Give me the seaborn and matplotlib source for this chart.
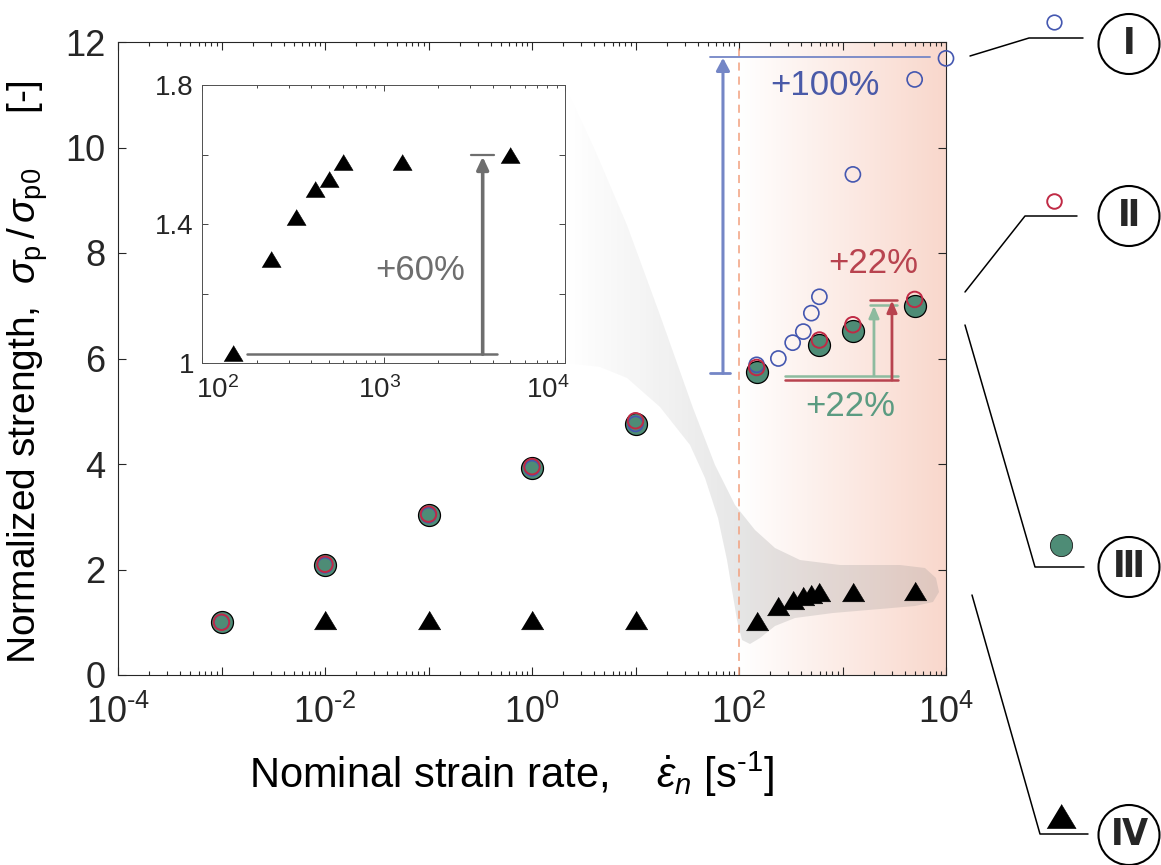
import numpy as np
import matplotlib
matplotlib.use("Agg")
import matplotlib.pyplot as plt
import matplotlib.transforms as mtransforms
from matplotlib.patches import Polygon, Ellipse
from matplotlib.lines import Line2D
from matplotlib.ticker import LogLocator, NullFormatter, FuncFormatter, FixedLocator, FixedFormatter
import seaborn as sns

# ---- values ----
rate_low = [1e-3, 1e-2, 1e-1, 1e0, 1e1]
rate_iv_low = [1e-2, 1e-1, 1e0, 1e1]
rate_high = [148, 240, 330, 418, 500, 598, 1260, 4980]
rate_i_high = [148, 240, 330, 418, 500, 598, 1260, 4980, 1e4]
rate_circ_high = [148, 598, 1260, 4980]

str_i_low = [1.00, 2.08, 3.03, 3.92, 4.76]
str_i_high = [5.88, 6.00, 6.30, 6.51, 6.86, 7.17, 9.49, 11.29, 11.69]
str_ii_low = [1.00, 2.10, 3.05, 3.95, 4.82]
str_ii_high = [5.83, 6.35, 6.64, 7.12]
str_iii_low = [1.00, 2.08, 3.03, 3.92, 4.76]
str_iii_high = [5.75, 6.26, 6.52, 7.00]
str_iv_low = [1.04, 1.04, 1.04, 1.04]
str_iv_high = [1.03, 1.30, 1.42, 1.50, 1.53, 1.58, 1.58, 1.60]

legend_labels = ["Ⅰ", "Ⅱ", "Ⅲ", "Ⅳ"]

BLUE = "#4457b0"
BLUE_L = "#7486c6"
BLUE_T = "#4a5aa8"
RED = "#c02a45"
RED_T = "#b8434f"
GREEN = "#4e8c76"
GREEN_T = "#5b9b81"
GREEN_L = "#8dbb9f"
GRAY = "#6e6e6e"
SALMON = "#f2a07e"
PINK = np.array([0.976, 0.845, 0.80])
INK = "#262626"

TRI = [(-1, -0.83), (1, -0.83), (0, 0.83)]

sns.set_theme(style="ticks")
plt.rcParams["font.family"] = ["Liberation Sans", "DejaVu Sans"]
plt.rcParams["mathtext.fontset"] = "custom"
plt.rcParams["mathtext.rm"] = "Liberation Sans"
plt.rcParams["mathtext.it"] = "Liberation Sans:italic"
plt.rcParams["mathtext.sf"] = "Liberation Sans"
plt.rcParams["axes.unicode_minus"] = False

W, H = 1161, 865
fig = plt.figure(figsize=(W / 100, H / 100), dpi=100)
# pixel coordinates, origin top-left (used for decorations only)
PX = mtransforms.Affine2D().scale(1 / W, -1 / H).translate(0, 1) + fig.transFigure

ax = fig.add_axes([118 / W, 1 - 675 / H, 828 / W, 633 / H])
ax.set_xscale("log")
ax.set_xlim(1e-4, 1e4)
ax.set_ylim(0, 12)


def ring(axis, x, y, color, s, lw, z, clip=True):
    sns.scatterplot(x=x, y=y, ax=axis, marker="o", s=s, color=color,
                    edgecolor=color, linewidth=lw, zorder=z, legend=False)
    coll = axis.collections[-1]
    coll.set_facecolor("none")
    coll.set_edgecolor(color)
    coll.set_clip_on(clip)


# series III: filled green, II: red ring, I: blue ring, IV: black triangles
sns.scatterplot(x=rate_low + rate_circ_high, y=str_iii_low + str_iii_high, ax=ax,
                marker="o", s=250, color=GREEN, edgecolor="black", linewidth=0.9,
                zorder=3, legend=False)
ring(ax, rate_low + rate_i_high, str_i_low + str_i_high, BLUE, 118, 1.2, 4, clip=False)
ring(ax, rate_low + rate_circ_high, str_ii_low + str_ii_high, RED, 125, 1.4, 5)
sns.scatterplot(x=rate_iv_low + rate_high, y=str_iv_low + str_iv_high, ax=ax,
                marker=TRI, s=260, color="black", edgecolor="black", linewidth=0.4,
                zorder=3, legend=False)

# dashed line at 10^2 and pink shading of the dynamic range
ax.axvline(100, color=SALMON, ls=(0, (5.3, 3.9)), lw=1.1, zorder=1)
grad = np.linspace(0, 1, 256)[None, :, None]
pink_img = (1 - grad) * np.ones(3) + grad * PINK
ax.imshow(pink_img, extent=(0.75, 1, 0, 1), transform=ax.transAxes,
          aspect="auto", zorder=0.1, interpolation="bicubic")

# grey "zoom" band from the inset to the high-rate triangles
band_px = [(565, 85), (595, 150), (627, 225), (660, 315), (693, 408), (715, 465),
           (735, 505), (755, 530), (775, 548), (800, 560), (840, 565), (900, 565),
           (925, 568), (936, 578), (939, 592), (933, 602), (915, 606), (880, 609),
           (833, 613), (795, 618), (775, 626), (760, 638), (750, 644), (742, 640),
           (737, 620), (732, 590), (727, 560), (718, 518), (705, 478), (690, 445),
           (660, 407), (627, 378), (600, 367), (565, 363)]
band = Polygon(band_px, closed=True, transform=PX, facecolor="none", edgecolor="none")
ramp = np.clip((np.linspace(565, 940, 300) - 565) / 190, 0, 1)
band_img = np.zeros((1, 300, 4))
band_img[..., :3] = 0.55
band_img[..., 3] = 0.23 * ramp
im = ax.imshow(band_img, extent=(565, 940, 650, 85), transform=PX,
               aspect="auto", zorder=0.6, interpolation="bicubic")
im.set_clip_path(band)
ax.set_xlim(1e-4, 1e4)
ax.set_ylim(0, 12)

# +100 % annotation
ax.plot([52.5, 81.8], [5.72, 5.72], color=BLUE_L, lw=2, zorder=2)
ax.plot([52.5, 7000], [11.72, 11.72], color=BLUE_L, lw=1.3, zorder=2)
ax.annotate("", xy=(70, 11.70), xytext=(70, 5.72),
            arrowprops=dict(arrowstyle="-|>,head_length=0.75,head_width=0.4",
                            color=BLUE_L, lw=2.2, shrinkA=0, shrinkB=0, mutation_scale=10))
ax.text(676, 11.18, "+100%", color=BLUE_T, fontsize=25, ha="center", va="center")

# +22 % annotations
ax.plot([278, 3436], [5.674, 5.674], color=GREEN_L, lw=1.8, zorder=2)
ax.plot([1845, 3365], [7.01, 7.01], color=GREEN_L, lw=1.8, zorder=2)
ax.annotate("", xy=(2014, 7.0), xytext=(2014, 5.674),
            arrowprops=dict(arrowstyle="-|>,head_length=0.7,head_width=0.3",
                            color=GREEN_L, lw=2, shrinkA=0, shrinkB=0, mutation_scale=10))
ax.plot([278, 3436], [5.59, 5.59], color=RED_T, lw=1.8, zorder=2)
ax.plot([1845, 3365], [7.11, 7.11], color=RED_T, lw=1.8, zorder=2)
ax.annotate("", xy=(3006, 7.1), xytext=(3006, 5.59),
            arrowprops=dict(arrowstyle="-|>,head_length=0.7,head_width=0.3",
                            color=RED_T, lw=2, shrinkA=0, shrinkB=0, mutation_scale=10))
ax.text(1972, 7.81, "+22%", color=RED_T, fontsize=25, ha="center", va="center")
ax.text(1180, 5.09, "+22%", color=GREEN_T, fontsize=25, ha="center", va="center")

# axes styling (MATLAB-like box with inward ticks)
ax.xaxis.set_major_locator(LogLocator(base=10, numticks=20))
ax.xaxis.set_minor_locator(LogLocator(base=10, subs=np.arange(2, 10), numticks=200))
ax.xaxis.set_minor_formatter(NullFormatter())


def dec_label(v, pos):
    e = int(round(np.log10(v)))
    return r"$\mathregular{10^{\text{%d}}}$" % e if e % 2 == 0 else ""


ax.xaxis.set_major_formatter(FuncFormatter(dec_label))
ax.set_yticks(np.arange(0, 13, 2))
ax.tick_params(which="both", direction="in", top=True, right=True, colors=INK,
               labelsize=26, width=0.8)
ax.tick_params(which="major", length=6)
ax.tick_params(which="minor", length=3)
ax.tick_params(axis="x", pad=14)
ax.tick_params(axis="y", pad=9)
for sp in ax.spines.values():
    sp.set_color(INK)
    sp.set_linewidth(0.8)
ax.set_xlabel(r"Nominal strain rate,    $\dot{\varepsilon}_n$ [s$^{\text{-1}}$]",
              fontsize=30, color="black")
ax.xaxis.set_label_coords(0.475, -0.118)
ax.set_ylabel(r"Normalized strength,  $\sigma_\mathregular{p}\,/\,\sigma_\mathregular{p0}$     [-]",
              fontsize=28, color="black")
ax.yaxis.set_label_coords(-0.082, 0.479)

# inset: high-rate triangles
ins = fig.add_axes([202.3 / W, 1 - 363.3 / H, 362.7 / W, 278.3 / H], zorder=2)
ins.set_facecolor("white")
ins.set_xscale("log")
ins.set_xlim(1e2, 1e4)
ins.set_ylim(1, 1.8)
sns.scatterplot(x=rate_high, y=str_iv_high, ax=ins, marker=TRI, s=190, color="black",
                edgecolor="black", linewidth=0.4, zorder=3, legend=False, clip_on=False)
ins.plot([177, 4198], [1.026, 1.026], color=GRAY, lw=1.8)
ins.plot([3034, 4055], [1.599, 1.599], color=GRAY, lw=1.6)
ins.annotate("", xy=(3516, 1.594), xytext=(3516, 1.026),
             arrowprops=dict(arrowstyle="-|>,head_length=0.75,head_width=0.35",
                             color=GRAY, lw=2.6, shrinkA=0, shrinkB=0, mutation_scale=10))
ins.text(1585, 1.268, "+60%", color=GRAY, fontsize=25, ha="center", va="center")
ins.xaxis.set_major_locator(FixedLocator([1e2, 1e3, 1e4]))
ins.xaxis.set_minor_locator(LogLocator(base=10, subs=np.arange(2, 10), numticks=100))
ins.xaxis.set_minor_formatter(NullFormatter())
ins.xaxis.set_major_formatter(FuncFormatter(
    lambda v, p: r"$\mathregular{10^{%d}}$" % int(round(np.log10(v)))))
ins.yaxis.set_major_locator(FixedLocator([1, 1.2, 1.4, 1.6, 1.8]))
ins.yaxis.set_major_formatter(FixedFormatter(["1", "", "1.4", "", "1.8"]))
ins.tick_params(which="both", direction="in", top=True, right=True, colors=INK,
                labelsize=20, width=0.6)
ins.tick_params(which="major", length=4)
ins.tick_params(which="minor", length=2)
ins.tick_params(axis="x", pad=9)
ins.tick_params(axis="y", pad=6)
for sp in ins.spines.values():
    sp.set_color("#505050")
    sp.set_linewidth(0.7)
# the inset's decade labels sit slightly inward in the reference
for lab, dx in zip(ins.xaxis.get_majorticklabels(), [15, -4, -17]):
    lab.set_transform(lab.get_transform()
                      + mtransforms.ScaledTranslation(dx / 100, 0, fig.dpi_scale_trans))

# external legend with leader lines and numbered circles
leaders = [[(970, 56), (1029, 38), (1083, 38)],
           [(965, 292), (1025, 216), (1077, 216)],
           [(965, 325), (1035, 567), (1084, 567)],
           [(972, 595), (1040, 834), (1088, 834)]]
key_pos = [(1054, 22), (1054, 201), (1061, 545), (1061, 816)]
key_style = [dict(marker="o", ms=10.5, mfc="none", mec=BLUE, mew=1.2),
             dict(marker="o", ms=10.5, mfc="none", mec=RED, mew=1.4),
             dict(marker="o", ms=16, mfc=GREEN, mec="#1a1a1a", mew=0.6),
             dict(marker=TRI, ms=21, mfc="black", mec="black", mew=0.4)]
circle_y = [44, 216, 567, 835]
for pts, kp, st, cy, lab in zip(leaders, key_pos, key_style, circle_y, legend_labels):
    xs, ys = zip(*pts)
    fig.add_artist(Line2D(xs, ys, color="black", lw=1.1, transform=PX))
    fig.add_artist(Line2D([kp[0]], [kp[1]], ls="none", transform=PX, **st))
    fig.add_artist(Ellipse((1129, cy), 61, 60, transform=PX, facecolor="none",
                           edgecolor="black", lw=1.5))
    fig.text(1129 / W, 1 - cy / H, lab, ha="center", va="center", fontsize=27,
             fontweight="bold", fontstretch="condensed",
             family=["DejaVu Sans", "Noto Sans CJK JP"])

fig.savefig("out.png", dpi=100)
